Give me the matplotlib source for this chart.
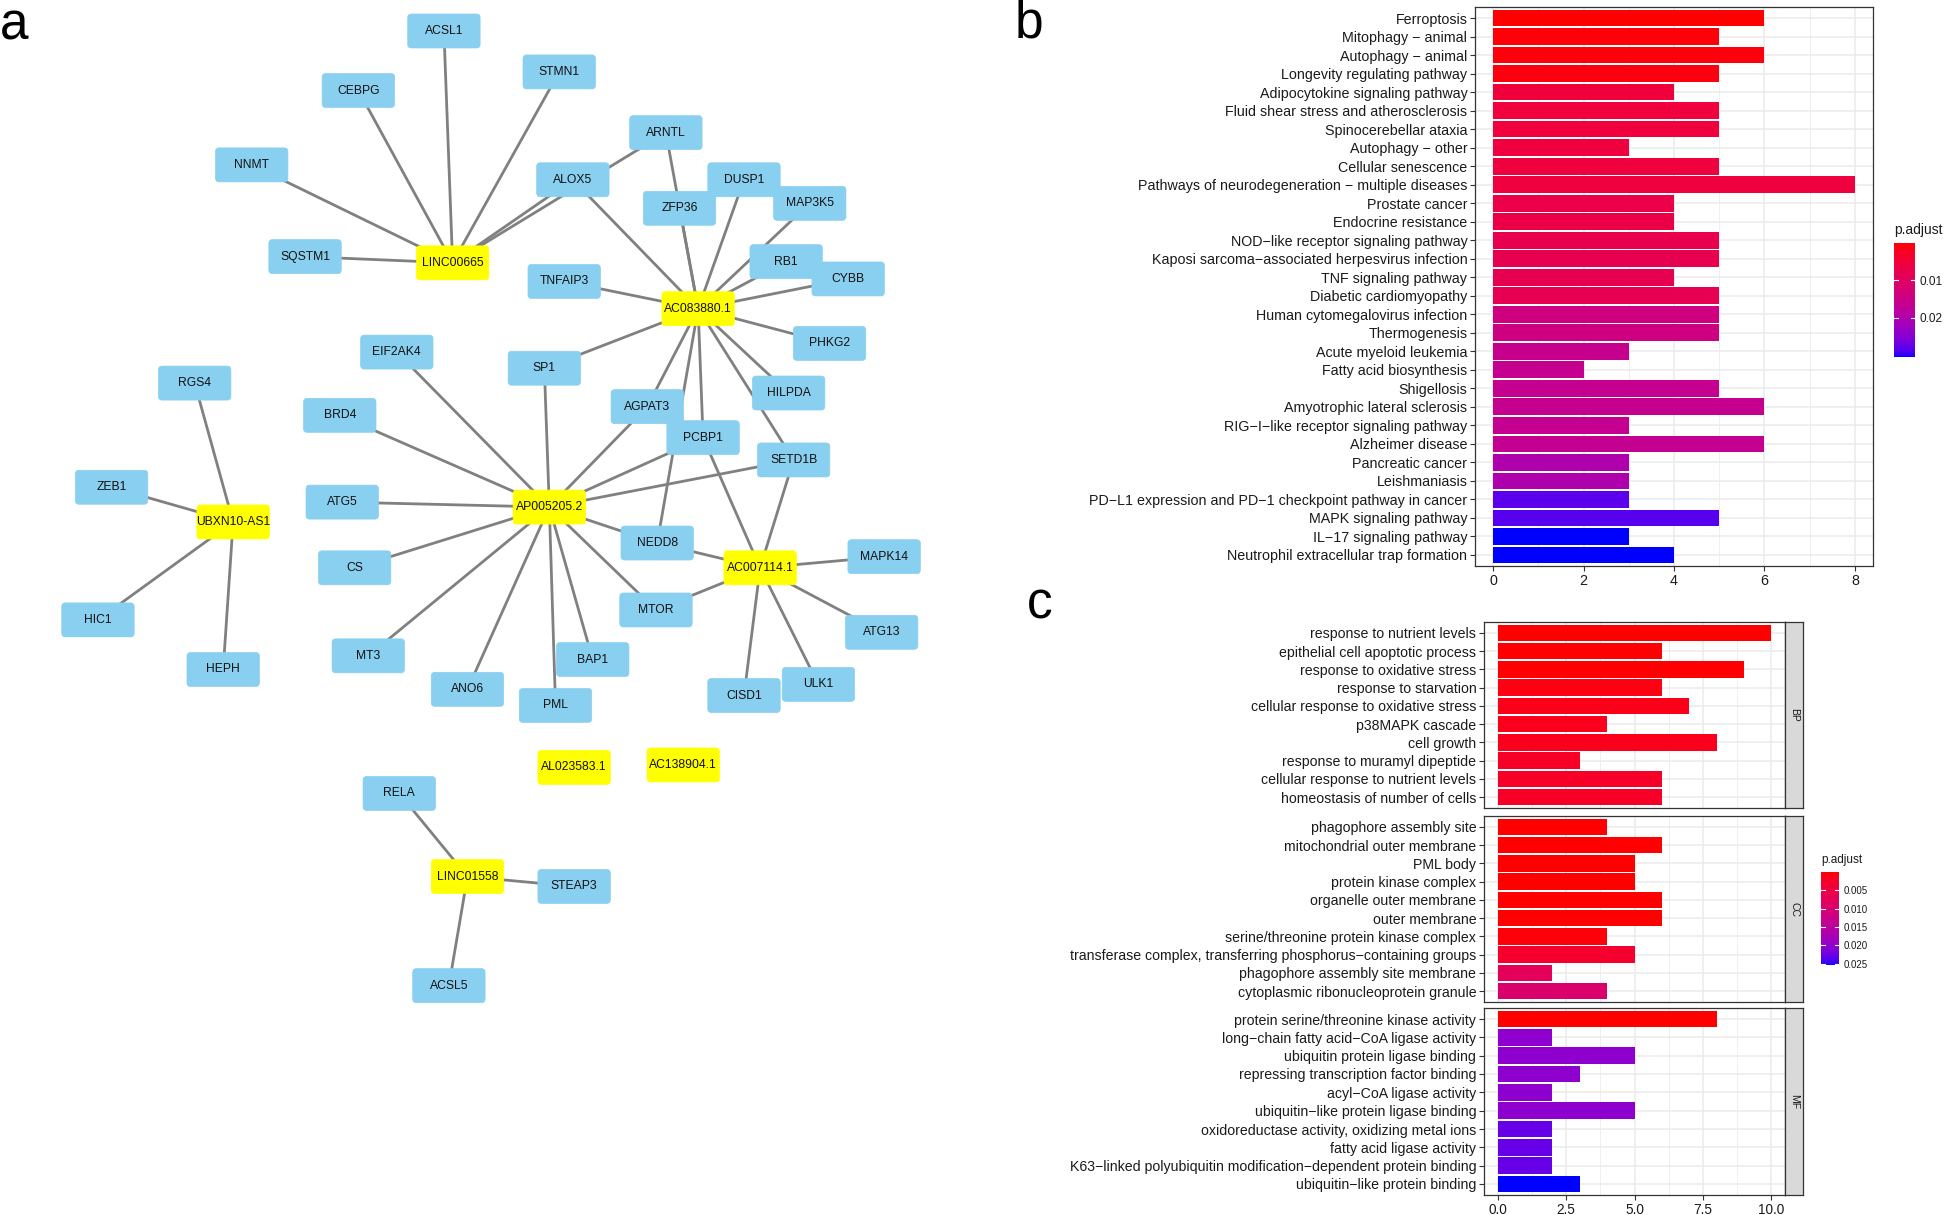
import numpy as np
import matplotlib
matplotlib.use("Agg")
import matplotlib.pyplot as plt
from matplotlib.patches import FancyBboxPatch
from matplotlib.colors import ListedColormap, Normalize
from matplotlib.cm import ScalarMappable

plt.rcParams['font.family'] = ['Liberation Sans', 'DejaVu Sans']

# ---------------- data: network (panel a) ----------------
hub_names = ["LINC00665", "AC083880.1", "AP005205.2", "UBXN10-AS1", "AC007114.1",
             "AL023583.1", "AC138904.1", "LINC01558"]
hub_x = [365, 563, 443, 188, 613, 463, 551, 377]
hub_y = [212, 249, 409, 421, 458, 619, 617, 707]

gene_names = ["ACSL1", "STMN1", "CEBPG", "NNMT", "ARNTL", "ALOX5", "DUSP1", "ZFP36",
              "MAP3K5", "SQSTM1", "TNFAIP3", "RB1", "CYBB", "PHKG2", "EIF2AK4", "SP1",
              "RGS4", "HILPDA", "AGPAT3", "BRD4", "PCBP1", "SETD1B", "ZEB1", "ATG5",
              "NEDD8", "MAPK14", "CS", "MTOR", "HIC1", "ATG13", "BAP1", "HEPH", "MT3",
              "ULK1", "CISD1", "ANO6", "PML", "RELA", "STEAP3", "ACSL5"]
gene_x = [358, 451, 289, 203, 537, 462, 600, 548, 653, 246, 455, 634, 684, 669, 320, 439,
          157, 636, 522, 274, 567, 640, 90, 276, 530, 713, 286, 529, 79, 711, 478, 180, 297,
          660, 600, 377, 448, 322, 463, 362]
gene_y = [25, 58, 73, 133, 107, 145, 145, 168, 164, 207, 227, 211, 225, 277, 284, 297,
          309, 317, 328, 335, 353, 371, 393, 405, 438, 449, 458, 492, 500, 510, 532, 540, 529,
          552, 561, 556, 569, 640, 715, 795]

edges = [
    ("LINC00665", "ACSL1"), ("LINC00665", "STMN1"), ("LINC00665", "CEBPG"),
    ("LINC00665", "NNMT"), ("LINC00665", "SQSTM1"), ("LINC00665", "ALOX5"),
    ("LINC00665", "ARNTL"),
    ("AC083880.1", "ALOX5"), ("AC083880.1", "ARNTL"), ("AC083880.1", "ZFP36"),
    ("AC083880.1", "DUSP1"), ("AC083880.1", "MAP3K5"), ("AC083880.1", "RB1"),
    ("AC083880.1", "CYBB"), ("AC083880.1", "TNFAIP3"), ("AC083880.1", "SP1"),
    ("AC083880.1", "PHKG2"), ("AC083880.1", "HILPDA"), ("AC083880.1", "SETD1B"),
    ("AC083880.1", "AGPAT3"), ("AC083880.1", "PCBP1"), ("AC083880.1", "NEDD8"),
    ("AP005205.2", "EIF2AK4"), ("AP005205.2", "SP1"), ("AP005205.2", "AGPAT3"),
    ("AP005205.2", "PCBP1"), ("AP005205.2", "SETD1B"), ("AP005205.2", "BRD4"),
    ("AP005205.2", "ATG5"), ("AP005205.2", "CS"), ("AP005205.2", "MT3"),
    ("AP005205.2", "ANO6"), ("AP005205.2", "PML"), ("AP005205.2", "BAP1"),
    ("AP005205.2", "MTOR"), ("AP005205.2", "NEDD8"),
    ("AC007114.1", "SETD1B"), ("AC007114.1", "PCBP1"), ("AC007114.1", "NEDD8"),
    ("AC007114.1", "MTOR"), ("AC007114.1", "MAPK14"), ("AC007114.1", "ATG13"),
    ("AC007114.1", "ULK1"), ("AC007114.1", "CISD1"),
    ("UBXN10-AS1", "RGS4"), ("UBXN10-AS1", "ZEB1"), ("UBXN10-AS1", "HIC1"),
    ("UBXN10-AS1", "HEPH"),
    ("LINC01558", "RELA"), ("LINC01558", "STEAP3"), ("LINC01558", "ACSL5"),
]

# ---------------- data: KEGG (panel b) ----------------
kegg_terms = ["Ferroptosis", "Mitophagy \u2212 animal", "Autophagy \u2212 animal",
              "Longevity regulating pathway", "Adipocytokine signaling pathway",
              "Fluid shear stress and atherosclerosis", "Spinocerebellar ataxia",
              "Autophagy \u2212 other", "Cellular senescence",
              "Pathways of neurodegeneration \u2212 multiple diseases", "Prostate cancer",
              "Endocrine resistance", "NOD\u2212like receptor signaling pathway",
              "Kaposi sarcoma\u2212associated herpesvirus infection", "TNF signaling pathway",
              "Diabetic cardiomyopathy", "Human cytomegalovirus infection", "Thermogenesis",
              "Acute myeloid leukemia", "Fatty acid biosynthesis", "Shigellosis",
              "Amyotrophic lateral sclerosis", "RIG\u2212I\u2212like receptor signaling pathway",
              "Alzheimer disease", "Pancreatic cancer", "Leishmaniasis",
              "PD\u2212L1 expression and PD\u22121 checkpoint pathway in cancer",
              "MAPK signaling pathway", "IL\u221217 signaling pathway",
              "Neutrophil extracellular trap formation"]
kegg_count = [6, 5, 6, 5, 4, 5, 5, 3, 5, 8, 4, 4, 5, 5, 4, 5, 5, 5, 3, 2, 5, 6, 3, 6,
              3, 3, 3, 5, 3, 4]
kegg_padj = [0.0001, 0.0005, 0.0008, 0.0009, 0.0052, 0.0053, 0.0054, 0.0055, 0.0056, 0.0056,
             0.0066, 0.0067, 0.0076, 0.0077, 0.0078, 0.0079, 0.0142, 0.0144, 0.0160, 0.0161,
             0.0162, 0.0162, 0.0163, 0.0164, 0.0200, 0.0201, 0.0282, 0.0284, 0.0304, 0.0305]
kegg_cbar_ticks = [0.01, 0.02]

# ---------------- data: GO (panel c) ----------------
bp_terms = ["response to nutrient levels", "epithelial cell apoptotic process",
            "response to oxidative stress", "response to starvation",
            "cellular response to oxidative stress", "p38MAPK cascade", "cell growth",
            "response to muramyl dipeptide", "cellular response to nutrient levels",
            "homeostasis of number of cells"]
bp_count = [10, 6, 9, 6, 7, 4, 8, 3, 6, 6]
bp_padj = [0.0001, 0.0002, 0.0002, 0.0008, 0.0013, 0.0015, 0.0016, 0.0024, 0.0025, 0.0025]

cc_terms = ["phagophore assembly site", "mitochondrial outer membrane", "PML body",
            "protein kinase complex", "organelle outer membrane", "outer membrane",
            "serine/threonine protein kinase complex",
            "transferase complex, transferring phosphorus\u2212containing groups",
            "phagophore assembly site membrane", "cytoplasmic ribonucleoprotein granule"]
cc_count = [4, 6, 5, 5, 6, 6, 4, 5, 2, 4]
cc_padj = [0.0001, 0.0001, 0.0001, 0.0001, 0.0001, 0.0001, 0.0005, 0.0030, 0.0073, 0.0096]

mf_terms = ["protein serine/threonine kinase activity",
            "long\u2212chain fatty acid\u2212CoA ligase activity",
            "ubiquitin protein ligase binding", "repressing transcription factor binding",
            "acyl\u2212CoA ligase activity", "ubiquitin\u2212like protein ligase binding",
            "oxidoreductase activity, oxidizing metal ions", "fatty acid ligase activity",
            "K63\u2212linked polyubiquitin modification\u2212dependent protein binding",
            "ubiquitin\u2212like protein binding"]
mf_count = [8, 2, 5, 3, 2, 5, 2, 2, 2, 3]
mf_padj = [0.0001, 0.0202, 0.0202, 0.0202, 0.0202, 0.0202, 0.0228, 0.0228, 0.0228, 0.0253]
go_cbar_ticks = [0.005, 0.010, 0.015, 0.020, 0.025]
go_facets = ["BP", "CC", "MF"]

# ---------------- colour scale (red -> blue, Lab interpolation like ggplot) ----------------
_M = np.array([[0.4124, 0.3576, 0.1805], [0.2126, 0.7152, 0.0722], [0.0193, 0.1192, 0.9505]])
_Minv = np.linalg.inv(_M)
_white = _M @ np.ones(3)


def _to_lin(c):
    c = np.asarray(c, float)
    return np.where(c <= 0.04045, c / 12.92, ((c + 0.055) / 1.055) ** 2.4)


def _to_srgb(c):
    c = np.clip(c, 0, None)
    return np.where(c <= 0.0031308, 12.92 * c, 1.055 * np.power(c, 1 / 2.4) - 0.055)


def _f(t):
    d = 6 / 29
    return np.where(t > d ** 3, np.cbrt(t), t / (3 * d * d) + 4 / 29)


def _finv(t):
    d = 6 / 29
    return np.where(t > d, t ** 3, 3 * d * d * (t - 4 / 29))


def rgb2lab(rgb):
    xyz = _M @ _to_lin(rgb)
    fx, fy, fz = _f(xyz / _white)
    return np.array([116 * fy - 16, 500 * (fx - fy), 200 * (fy - fz)])


def lab2rgb(lab):
    L, a, b = lab
    fy = (L + 16) / 116
    fx = fy + a / 500
    fz = fy - b / 200
    xyz = _white[:, None] * np.array([_finv(fx), _finv(fy), _finv(fz)])
    return np.clip(_to_srgb(_Minv @ xyz), 0, 1)


_t = np.linspace(0, 1, 256)
_lr, _lb = rgb2lab([1, 0, 0]), rgb2lab([0, 0, 1])
_labs = _lr[:, None] * (1 - _t) + _lb[:, None] * _t
cmap = ListedColormap(lab2rgb(_labs).T)

# ---------------- figure ----------------
W, H = 1944, 1215
fig = plt.figure(figsize=(W / 100, H / 100), dpi=100)


def rect(l, t, r, b):
    return [l / W, 1 - b / H, (r - l) / W, (b - t) / H]


TXT = '#1A1A1A'
BORDER = '#333333'
GRID = '#EBEBEB'

# ---------- panel a: network ----------
axn = fig.add_axes(rect(0, 0, 992, 1215))
axn.set_xlim(0, 800)
axn.set_ylim(980, 0)
axn.axis('off')
pos = {n: (x, y) for n, x, y in zip(hub_names, hub_x, hub_y)}
pos.update({n: (x, y) for n, x, y in zip(gene_names, gene_x, gene_y)})
for a, b in edges:
    (x0, y0), (x1, y1) = pos[a], pos[b]
    axn.plot([x0, x1], [y0, y1], color='#808080', lw=2.0, zorder=1, solid_capstyle='butt')
bw, bh = 56, 25
for names, xs, ys, col in [(gene_names, gene_x, gene_y, '#89CFF0'),
                           (hub_names, hub_x, hub_y, '#FFFF00')]:
    for n, x, y in zip(names, xs, ys):
        p = FancyBboxPatch((x - bw / 2, y - bh / 2), bw, bh,
                           boxstyle='round,pad=1.2,rounding_size=3',
                           fc=col, ec=col, lw=0.5, zorder=2)
        axn.add_patch(p)
        axn.text(x, y, n, ha='center', va='center', fontsize=8.7, color='#111111',
                 zorder=3)


# ---------- helper for bar panels ----------
def bar_panel(ax, labels, counts, padj, norm, xmax, major, minor, xlabels, fs, xfs, show_x):
    n = len(labels)
    y = np.arange(n)
    for yy in y:
        ax.axhline(yy, color=GRID, lw=1.1, zorder=0)
    for xx in major:
        ax.axvline(xx, color=GRID, lw=1.1, zorder=0)
    for xx in minor:
        ax.axvline(xx, color=GRID, lw=0.55, zorder=0)
    ax.barh(y, counts, height=0.9, color=cmap(norm(np.array(padj))), zorder=2)
    ax.set_ylim(n - 1 + 0.6, -0.6)
    ax.set_xlim(-0.05 * xmax, 1.05 * xmax)
    ax.set_yticks(y)
    ax.set_yticklabels(labels, fontsize=fs, color=TXT)
    ax.set_xticks(major)
    if show_x:
        ax.set_xticklabels(xlabels, fontsize=xfs, color=TXT)
        ax.tick_params(axis='x', length=3.5, width=0.8, color=BORDER, pad=2)
    else:
        ax.tick_params(axis='x', length=0, labelbottom=False)
    ax.tick_params(axis='y', length=3.5, width=0.8, color=BORDER, pad=2)
    for s in ax.spines.values():
        s.set_color(BORDER)
        s.set_linewidth(0.9)
    ax.set_facecolor('white')


def colorbar(l, t, r, b, norm, ticks, labels, fs, title, title_fs):
    cax = fig.add_axes(rect(l, t, r, b))
    cb = fig.colorbar(ScalarMappable(norm=norm, cmap=cmap), cax=cax)
    cb.outline.set_visible(False)
    cax.invert_yaxis()
    cb.set_ticks(ticks)
    cb.set_ticklabels(labels)
    cax.tick_params(length=0, labelsize=fs, colors=TXT, pad=3)
    for v in ticks:
        cax.plot([0, 0.2], [v, v], color='white', lw=0.8)
        cax.plot([0.8, 1], [v, v], color='white', lw=0.8)
    fig.text(l / W, 1 - (t - 6) / H, title, fontsize=title_fs, color=TXT,
             ha='left', va='bottom')


# ---------- panel b ----------
axb = fig.add_axes(rect(1475, 7, 1873, 566))
norm_b = Normalize(vmin=min(kegg_padj), vmax=max(kegg_padj))
bar_panel(axb, kegg_terms, kegg_count, kegg_padj, norm_b, 8,
          [0, 2, 4, 6, 8], [1, 3, 5, 7], ['0', '2', '4', '6', '8'], 10.3, 10.3, True)
colorbar(1894, 243, 1915, 357, norm_b, kegg_cbar_ticks, ['0.01', '0.02'], 8.5,
         'p.adjust', 10)

# ---------- panel c ----------
norm_c = Normalize(vmin=min(bp_padj + cc_padj + mf_padj),
                   vmax=max(bp_padj + cc_padj + mf_padj))
rows = [(622, 808), (816, 1002), (1008, 1195)]
sets = [(bp_terms, bp_count, bp_padj), (cc_terms, cc_count, cc_padj),
        (mf_terms, mf_count, mf_padj)]
for i, ((t, b), (lab, cnt, pv), fac) in enumerate(zip(rows, sets, go_facets)):
    ax = fig.add_axes(rect(1484, t, 1785, b))
    bar_panel(ax, lab, cnt, pv, norm_c, 10, [0, 2.5, 5, 7.5, 10],
              [1.25, 3.75, 6.25, 8.75], ['0.0', '2.5', '5.0', '7.5', '10.0'], 10.2, 9.8,
              i == 2)
    sax = fig.add_axes(rect(1785, t, 1803, b))
    sax.set_facecolor('#D9D9D9')
    sax.set_xticks([])
    sax.set_yticks([])
    for s in sax.spines.values():
        s.set_color(BORDER)
        s.set_linewidth(0.9)
    sax.text(0.5, 0.5, fac, rotation=-90, ha='center', va='center', fontsize=7.5,
             color=TXT, transform=sax.transAxes)
colorbar(1821, 872, 1839, 965, norm_c, go_cbar_ticks,
         ['0.005', '0.010', '0.015', '0.020', '0.025'], 7, 'p.adjust', 8.5)

# ---------- panel letters ----------
fig.text(0 / W, 1 - 40 / H, 'a', fontsize=37, color='black', ha='left', va='baseline')
fig.text(1015 / W, 1 - 38 / H, 'b', fontsize=37, color='black', ha='left', va='baseline')
fig.text(1027 / W, 1 - 619 / H, 'c', fontsize=37, color='black', ha='left', va='baseline')

fig.savefig('out.png', dpi=100, facecolor='white')
